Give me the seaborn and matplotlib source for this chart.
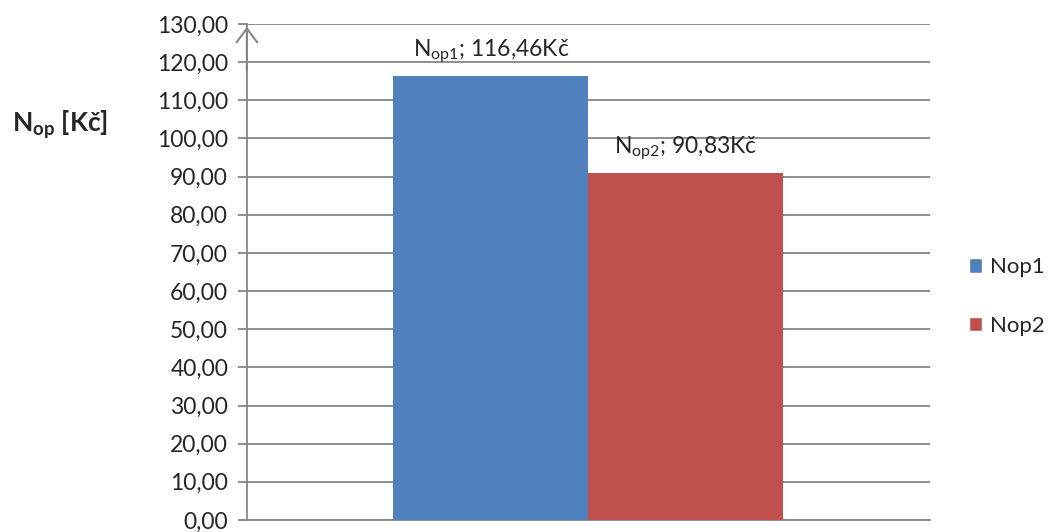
import pandas as pd
import matplotlib
matplotlib.use("Agg")
import matplotlib.pyplot as plt
import matplotlib.patches as mpatches
import seaborn as sns

# data
series = ["Nop1", "Nop2"]
values = [116.46, 90.83]
value_labels = [r"$\mathrm{N_{op1}}$; 116,46Kč", r"$\mathrm{N_{op2}}$; 90,83Kč"]
colors = ["#4F81BD", "#C0504D"]
y_ticks = list(range(0, 131, 10))

sns.set_style("white", {"ytick.left": True})
plt.rcParams['font.family'] = ['Lato', 'DejaVu Sans']
plt.rcParams['mathtext.fontset'] = 'custom'
plt.rcParams['mathtext.rm'] = 'Lato'
plt.rcParams['mathtext.bf'] = 'Lato:bold'

df = pd.DataFrame({"cat": ["x"] * len(series), "series": series, "value": values})

fig = plt.figure(figsize=(10.55, 5.32), dpi=100)
ax = fig.add_axes([0.234, 0.0226, 0.6475, 0.9323])

sns.barplot(data=df, x="cat", y="value", hue="series", palette=colors,
            width=0.571, saturation=1, ax=ax, legend=False, zorder=3,
            edgecolor="none", linewidth=0)

grid_c = "#868686"
ax.set_ylim(0, 130)
ax.set_yticks(y_ticks)
ax.set_yticklabels([f"{v:.2f}".replace(".", ",") for v in y_ticks], fontsize=16.5)
ax.yaxis.grid(True, color=grid_c, lw=1.3, zorder=0)
ax.set_axisbelow(True)
ax.tick_params(axis="y", which="major", length=6.5, width=1.3, color=grid_c,
               pad=7, left=True, direction="out")
ax.set_xticks([])
ax.set_xlabel("")
ax.set_ylabel("")
for s in ["top", "right"]:
    ax.spines[s].set_visible(False)
for s in ["left", "bottom"]:
    ax.spines[s].set_color(grid_c)
    ax.spines[s].set_linewidth(1.3)

# arrow on top of the value axis
ax.annotate("", xy=(0, 1.0), xytext=(0, 0.9), xycoords="axes fraction",
            arrowprops=dict(arrowstyle="->,head_width=0.75,head_length=1.0",
                            color=grid_c, lw=1.5), zorder=5)

# value labels above the bars
for bar, lab in zip(ax.patches, value_labels):
    ax.annotate(lab, (bar.get_x() + bar.get_width() / 2, bar.get_height()),
                xytext=(0, 8), textcoords="offset points",
                ha="center", va="bottom", fontsize=16.5)

fig.text(0.057, 0.765, r"$\mathbf{N_{op}}$ [Kč]", fontsize=19, fontweight="bold",
         ha="center", va="center")

handles = [mpatches.Patch(facecolor=c, label=n) for c, n in zip(colors, series)]
ax.legend(handles=handles, loc="center left", bbox_to_anchor=(1.057, 0.45),
          frameon=False, fontsize=16, handlelength=0.6, handleheight=0.6,
          handletextpad=0.35, labelspacing=1.75, borderaxespad=0, borderpad=0)

fig.savefig("out.png", dpi=100)
